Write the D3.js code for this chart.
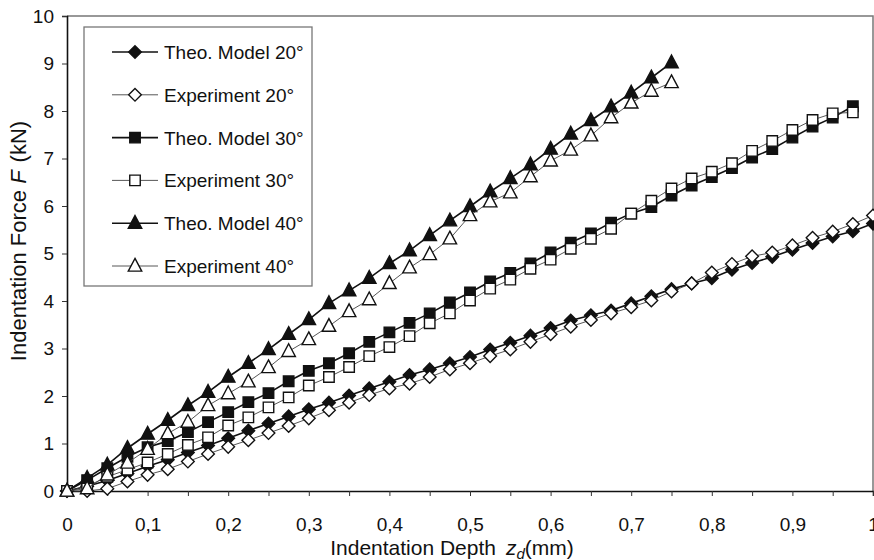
<!DOCTYPE html>
<html>
<head>
<meta charset="utf-8">
<title>Indentation Force</title>
<script src="https://d3js.org/d3.v7.min.js"></script>
<style>
  body { margin: 0; background: #fff; }
  text { font-family: "Liberation Sans", Arial, sans-serif; fill: #111; }
</style>
</head>
<body>
<script>
    // depth steps of 0.025 mm
    var theo20 = [0, 0.1, 0.22, 0.37, 0.52, 0.66, 0.81, 0.96, 1.11, 1.27, 1.42, 1.57, 1.72, 1.86, 2.01, 2.16, 2.3, 2.44, 2.56, 2.69, 2.82,
                  2.98, 3.12, 3.27, 3.43, 3.59, 3.7, 3.8, 3.95, 4.1, 4.25, 4.37, 4.48, 4.66, 4.8, 4.93, 5.08, 5.22, 5.36, 5.47, 5.63];
    var exp20  = [0, 0.0, 0.05, 0.2, 0.34, 0.46, 0.62, 0.78, 0.93, 1.07, 1.22, 1.37, 1.53, 1.7, 1.86, 2.02, 2.16, 2.26, 2.4, 2.56, 2.69,
                  2.84, 2.98, 3.14, 3.3, 3.46, 3.6, 3.74, 3.87, 4.01, 4.2, 4.37, 4.6, 4.78, 4.94, 5.02, 5.17, 5.33, 5.46, 5.62, 5.8];
    var theo30 = [0, 0.23, 0.48, 0.72, 0.92, 1.05, 1.24, 1.45, 1.66, 1.87, 2.06, 2.31, 2.53, 2.69, 2.9, 3.14, 3.34, 3.54, 3.74, 3.97,
                  4.18, 4.41, 4.59, 4.79, 5.02, 5.23, 5.42, 5.65, 5.84, 5.98, 6.22, 6.43, 6.61, 6.8, 7.02, 7.2, 7.44, 7.67, 7.86, 8.1];
    var exp30  = [0, 0.1, 0.3, 0.45, 0.6, 0.78, 0.97, 1.13, 1.38, 1.55, 1.76, 1.97, 2.22, 2.4, 2.61, 2.84, 3.03, 3.26, 3.53, 3.74,
                  4.01, 4.26, 4.45, 4.68, 4.87, 5.1, 5.31, 5.52, 5.84, 6.11, 6.37, 6.58, 6.72, 6.9, 7.16, 7.37, 7.6, 7.81, 7.95, 7.97];
    var theo40 = [0, 0.27, 0.55, 0.9, 1.2, 1.49, 1.8, 2.08, 2.4, 2.69, 2.98, 3.3, 3.61, 3.95, 4.22, 4.48,
                  4.79, 5.06, 5.38, 5.69, 5.99, 6.3, 6.58, 6.87, 7.2, 7.52, 7.8, 8.09, 8.38, 8.7, 9.02];
    var exp40  = [0, 0.05, 0.34, 0.59, 0.88, 1.21, 1.45, 1.8, 2.05, 2.3, 2.6, 2.94, 3.19, 3.47, 3.78, 4.03,
                  4.37, 4.7, 4.98, 5.31, 5.8, 6.09, 6.28, 6.62, 6.95, 7.18, 7.48, 7.86, 8.17, 8.42, 8.6];
    var step = 0.025;

    var xTickLabels = ["0", "0,1", "0,2", "0,3", "0,4", "0,5", "0,6", "0,7", "0,8", "0,9", "1"];
    var yTickLabels = ["0", "1", "2", "3", "4", "5", "6", "7", "8", "9", "10"];

    var w = 874, h = 560;
    var mLeft = 67, mRight = 873, mTop = 16, mBottom = 491;

    var svg = d3.select("body").append("svg")
                .attr("width", w)
                .attr("height", h);

    var x = d3.scaleLinear().domain([0, 1]).range([mLeft, mRight]);
    var y = d3.scaleLinear().domain([0, 10]).range([mBottom, mTop]);

    // frame: top/right grey
    svg.append("path")
       .attr("d", "M" + mLeft + "," + mTop + "H" + mRight + "V" + mBottom)
       .attr("fill", "none").attr("stroke", "#777").attr("stroke-width", 1.5);

    // y axis
    var yAxis = svg.append("g")
        .attr("transform", "translate(" + mLeft + ",0)")
        .call(d3.axisLeft(y).tickValues(d3.range(0, 11)).tickSize(5).tickPadding(8)
              .tickFormat(function(d, i) { return yTickLabels[i]; }));
    // x axis
    var xAxis = svg.append("g")
        .attr("transform", "translate(0," + mBottom + ")")
        .call(d3.axisBottom(x).tickValues(d3.range(0, 21).map(function(i) { return i * 0.05; }))
              .tickSize(5).tickPadding(22)
              .tickFormat(function(d, i) { return i % 2 === 0 ? xTickLabels[i / 2] : ""; }));

    [yAxis, xAxis].forEach(function(a) {
        a.attr("font-size", 19).attr("font-family", "'Liberation Sans', Arial, sans-serif");
        a.select(".domain").attr("stroke", "#111").attr("stroke-width", 1.6);
        a.selectAll(".tick line").attr("stroke", "#333");
        a.selectAll("text").attr("fill", "#111");
    });

    // axis titles
    var xt = svg.append("text")
        .attr("x", 452).attr("y", 555)
        .attr("text-anchor", "middle").attr("font-size", 21);
    xt.append("tspan").text("Indentation Depth");
    xt.append("tspan").attr("dx", 10).attr("font-style", "italic").text("z");
    xt.append("tspan").attr("font-style", "italic").attr("font-size", 15).attr("dy", 4).text("d");
    xt.append("tspan").attr("dy", -4).text("(mm)");

    var yt = svg.append("text")
        .attr("transform", "translate(26,241) rotate(-90)")
        .attr("text-anchor", "middle").attr("font-size", 22);
    yt.append("tspan").text("Indentation Force ");
    yt.append("tspan").attr("font-style", "italic").text("F");
    yt.append("tspan").attr("dx", 8).text("(kN)");

    // marker shapes
    var diamond = { draw: function(ctx, size) {
        var r = Math.sqrt(size / 2);
        ctx.moveTo(0, -r); ctx.lineTo(r, 0); ctx.lineTo(0, r); ctx.lineTo(-r, 0); ctx.closePath();
    }};
    var triangle = { draw: function(ctx, size) {
        var s = Math.sqrt(size);
        ctx.moveTo(0, -s * 0.62); ctx.lineTo(s * 0.55, s * 0.42); ctx.lineTo(-s * 0.55, s * 0.42); ctx.closePath();
    }};

    var series = [
        { name: "Theo. Model 20°", values: theo20, shape: diamond, size: 80, filled: true },
        { name: "Experiment 20°", values: exp20, shape: diamond, size: 80, filled: false },
        { name: "Theo. Model 30°", values: theo30, shape: d3.symbolSquare, size: 110, filled: true },
        { name: "Experiment 30°", values: exp30, shape: d3.symbolSquare, size: 110, filled: false },
        { name: "Theo. Model 40°", values: theo40, shape: triangle, size: 150, filled: true },
        { name: "Experiment 40°", values: exp40, shape: triangle, size: 150, filled: false }
    ];

    var line = d3.line()
        .x(function(d, i) { return x(i * step); })
        .y(function(d) { return y(d); });

    series.forEach(function(s) {
        var g = svg.append("g");
        g.append("path")
         .attr("d", line(s.values))
         .attr("fill", "none")
         .attr("stroke", s.filled ? "#111" : "#444")
         .attr("stroke-width", s.filled ? 1.6 : 0.9);
        g.selectAll("path.m")
         .data(s.values)
         .enter()
         .append("path")
         .attr("class", "m")
         .attr("transform", function(d, i) { return "translate(" + x(i * step) + "," + y(d) + ")"; })
         .attr("d", d3.symbol().type(s.shape).size(s.size))
         .attr("fill", s.filled ? "#111" : "#fff")
         .attr("stroke", "#111")
         .attr("stroke-width", 1.4);
    });

    // legend
    var lg = svg.append("g");
    lg.append("rect")
      .attr("x", 84).attr("y", 27).attr("width", 228).attr("height", 259)
      .attr("fill", "#fff").attr("stroke", "#777").attr("stroke-width", 1.3);
    series.forEach(function(s, i) {
        var cy = 52 + i * 42.8;
        lg.append("line")
          .attr("x1", 112).attr("x2", 158).attr("y1", cy).attr("y2", cy)
          .attr("stroke", s.filled ? "#111" : "#444")
          .attr("stroke-width", s.filled ? 1.6 : 0.9);
        lg.append("path")
          .attr("transform", "translate(135," + cy + ")")
          .attr("d", d3.symbol().type(s.shape).size(s.size))
          .attr("fill", s.filled ? "#111" : "#fff")
          .attr("stroke", "#111").attr("stroke-width", 1.4);
        lg.append("text")
          .attr("x", 164).attr("y", cy + 7)
          .attr("font-size", 19)
          .text(s.name);
    });
</script>
</body>
</html>
